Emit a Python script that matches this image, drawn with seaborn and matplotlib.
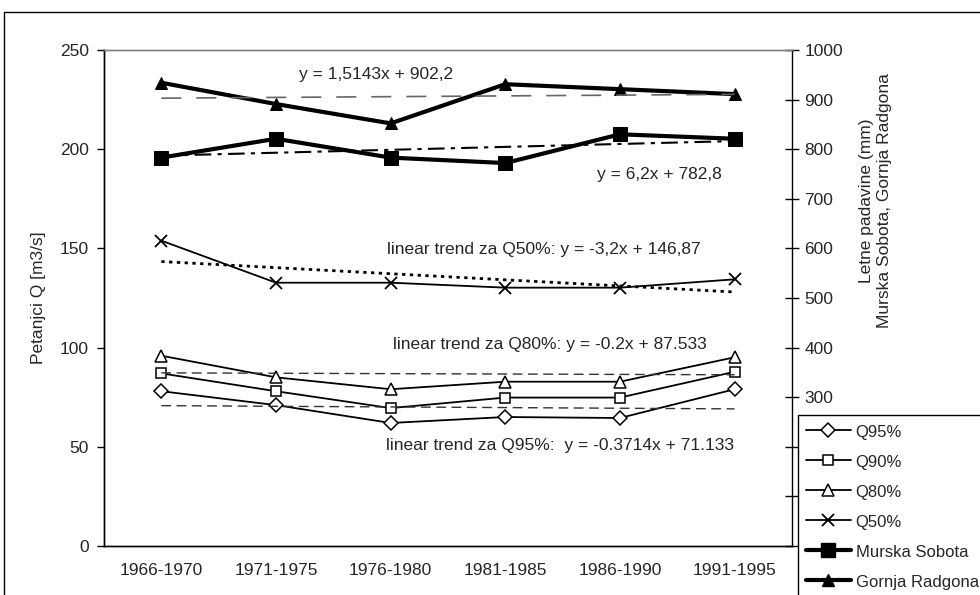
#libraries
import numpy as np
import matplotlib
matplotlib.use("Agg")
import matplotlib.pyplot as plt
from matplotlib.patches import Rectangle
from matplotlib.lines import Line2D
import seaborn as sns

sns.set_style("white")
plt.rcParams["font.family"] = ["Liberation Sans", "DejaVu Sans"]
plt.rcParams["font.size"] = 12.5

# data
periods = ["1966-1970", "1971-1975", "1976-1980", "1981-1985", "1986-1990", "1991-1995"]
q95 = [78.0, 71.0, 62.0, 65.0, 64.5, 79.0]
q90 = [87.0, 78.0, 69.5, 74.8, 74.8, 87.8]
q80 = [95.9, 85.0, 79.0, 82.8, 82.8, 95.1]
q50 = [153.9, 132.7, 132.7, 130.2, 130.2, 134.4]
murska_sobota = [783, 821, 783, 772, 830, 821]
gornja_radgona = [934, 891, 852, 931, 921, 911]

x_pos = np.arange(1, len(periods) + 1)

fig = plt.figure(figsize=(9.8, 5.95), dpi=100)
ax = fig.add_axes([0.1061, 0.0824, 0.7020, 0.8336])
ax2 = ax.twinx()

# outer chart frame (cut off at right / bottom like the reference)
fig.patches.append(Rectangle((4 / 980, -0.1), 1.2, 1.1 - 12 / 595, transform=fig.transFigure,
                             fill=False, edgecolor="black", lw=1, zorder=0))

###Percentile flow series (left axis)

q_series = [
    (q95, "D", 7, "Q95%"),
    (q90, "s", 7, "Q90%"),
    (q80, "^", 8, "Q80%"),
]
handles = []
for vals, mk, ms, lab in q_series:
    sns.lineplot(x=x_pos, y=vals, ax=ax, color="black", lw=1.3, marker=mk, ms=ms,
                 mfc="white", mec="black", mew=1.1, legend=False)
    handles.append(Line2D([], [], color="black", lw=1.3, marker=mk, ms=ms,
                          mfc="white", mec="black", mew=1.1, label=lab))

sns.lineplot(x=x_pos, y=q50, ax=ax, color="black", lw=1.3, marker="x", ms=9,
             mec="black", mew=1.3, legend=False)
handles.append(Line2D([], [], color="black", lw=1.3, marker="x", ms=9, mec="black",
                      mew=1.3, label="Q50%"))

# linear trends
sns.regplot(x=x_pos, y=q50, ax=ax, scatter=False, ci=None, truncate=True,
            line_kws=dict(color="black", lw=2, ls=(0, (1.2, 1.6))))
sns.regplot(x=x_pos, y=q80, ax=ax, scatter=False, ci=None, truncate=True,
            line_kws=dict(color="#333333", lw=1, ls=(0, (7, 4))))
sns.regplot(x=x_pos, y=q95, ax=ax, scatter=False, ci=None, truncate=True,
            line_kws=dict(color="#333333", lw=1, ls=(0, (7, 4))))

###Precipitation series (right axis)

sns.lineplot(x=x_pos, y=murska_sobota, ax=ax2, color="black", lw=3, marker="s", ms=10,
             mfc="black", mec="black", legend=False)
handles.append(Line2D([], [], color="black", lw=3, marker="s", ms=10, label="Murska Sobota"))
sns.lineplot(x=x_pos, y=gornja_radgona, ax=ax2, color="black", lw=3, marker="^", ms=9,
             mfc="black", mec="black", legend=False)
handles.append(Line2D([], [], color="black", lw=3, marker="^", ms=9, label="Gornja Radgona"))

sns.regplot(x=x_pos, y=murska_sobota, ax=ax2, scatter=False, ci=None, truncate=True,
            line_kws=dict(color="black", lw=1.5, ls=(0, (8, 3, 2, 3))))
sns.regplot(x=x_pos, y=gornja_radgona, ax=ax2, scatter=False, ci=None, truncate=True,
            line_kws=dict(color="#666666", lw=1.2, ls=(0, (12, 9))))

# equations
ax.text(2.20, 237.4, "y = 1,5143x + 902,2", ha="left", va="center")
ax.text(4.80, 187.0, "y = 6,2x + 782,8", ha="left", va="center")
ax.text(2.97, 149.2, "linear trend za Q50%: y = -3,2x + 146,87", ha="left", va="center")
ax.text(3.02, 101.3, "linear trend za Q80%: y = -0.2x + 87.533", ha="left", va="center")
ax.text(2.96, 50.6, "linear trend za Q95%:  y = -0.3714x + 71.133", ha="left", va="center")

###Axes

ax.set_xlim(0.5, len(periods) + 0.5)
ax.set_ylim(0, 250)
ax2.set_ylim(0, 1000)

ax.set_xticks(np.arange(0.5, len(periods) + 1))
ax.set_xticklabels([])
ax.set_xticks(x_pos, minor=True)
ax.set_xticklabels(periods, minor=True)
ax.tick_params(axis="x", which="major", direction="out", length=5, width=1, color="black")
ax.tick_params(axis="x", which="minor", length=0, pad=12)
ax.set_yticks(np.arange(0, 251, 50))
ax.tick_params(axis="y", direction="out", length=5, width=1, color="black", pad=6, left=True)
ax2.set_yticks(np.arange(0, 1001, 100))
ax2.tick_params(axis="y", direction="inout", length=10, width=1, color="black", pad=4, right=True)

ax.set_ylabel("Petanjci Q [m3/s]")
ax.yaxis.set_label_coords(-0.085, 0.5)
ax2.set_ylabel("Letne padavine (mm)\nMurska Sobota, Gornja Radgona", linespacing=1.3)
ax2.yaxis.set_label_coords(1.097, 0.696)

for a in (ax, ax2):
    for s in a.spines.values():
        s.set_color("black")
        s.set_linewidth(1)
    a.spines["top"].set_color("#808080")
    a.grid(False)
ax.spines["right"].set_visible(False)

leg = fig.legend(handles=handles, loc="upper left", bbox_to_anchor=(798 / 980, 1 - 415 / 595),
                 frameon=True, fancybox=False, edgecolor="black", framealpha=1,
                 handlelength=2.7, handleheight=1.2, handletextpad=0.3, labelspacing=0.78,
                 borderpad=0.45, borderaxespad=0, fontsize=12)
leg.get_frame().set_linewidth(1)
leg.set_zorder(10)

plt.savefig("out.png", dpi=100)
